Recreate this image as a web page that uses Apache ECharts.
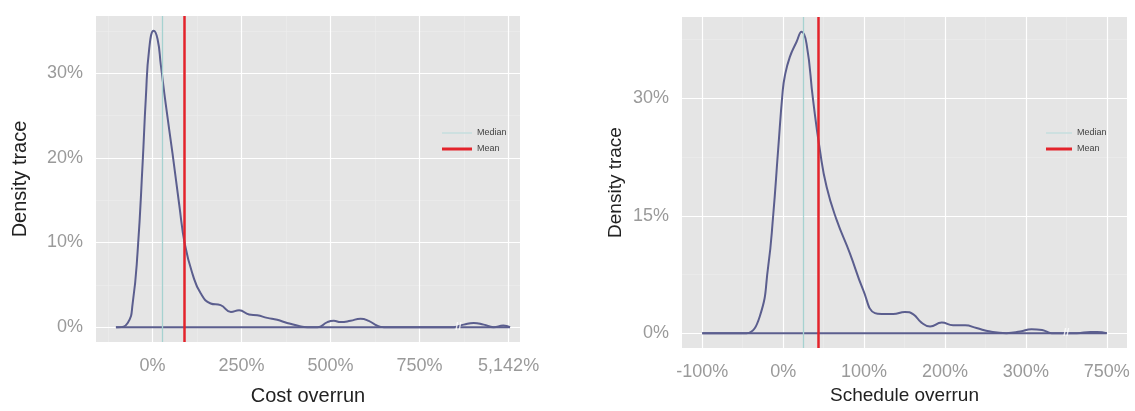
<!DOCTYPE html>
<html lang="en" style="height: 100%">

<head>
    <meta charset="utf-8">
    <script type="text/javascript" src="https://cdn.jsdelivr.net/npm/echarts@6/dist/echarts.min.js"></script>
</head>

<body style="height: 100%; margin: 0; background: #fff">
    <div id="container" style="width: 1135px; height: 411px"></div>
    <script type="text/javascript">
        // cost overrun density (x in %, 1000 on the axis stands for 5,142%)
        var costX = [-103, -98, -70, -56, -42, -28, -19, -9.5, 3, 14, 23, 37, 56, 75, 91, 112, 135, 163, 191, 220, 243, 271, 294, 322, 350, 378, 406, 435, 463, 491, 509, 528, 556, 584, 607, 631, 650, 845, 874, 902, 930, 958, 985, 1004];
        var costY = [0, 0, 0.5, 2.8, 9.0, 19.4, 27.1, 32.9, 35.0, 34.0, 31.0, 26.3, 20.5, 14.4, 9.7, 6.3, 4.0, 2.8, 2.6, 1.8, 2.0, 1.5, 1.4, 1.1, 0.87, 0.5, 0.2, 0, 0, 0.6, 0.75, 0.6, 0.75, 1.0, 0.75, 0.17, 0, 0, 0.3, 0.5, 0.3, 0, 0.2, 0];
        var costMedian = 26;
        var costMean = 90;
        var costBreak = 859;
        var costXTicks = [0, 250, 500, 750, 1000];
        var costXTickLabels = ['0%', '250%', '500%', '750%', '5,142%'];
        var costXMinor = [-125, 125, 375, 625, 875];
        var costYTicks = [0, 10, 20, 30];
        var costYMinor = [5, 15, 25, 35];

        // schedule overrun density (400 on the axis stands for 750%)
        var schedX = [-100, -47, -45, -29, -18.5, -12.4, -6.2, -0.8, 2, 8.3, 16.5, 22.8, 28.9, 37, 45.4, 53.7, 66, 82.5, 99, 113.5, 121.8, 136, 150.6, 161, 171, 181.6, 196, 210, 225, 239, 256, 276, 293, 307, 320, 332, 346, 363, 380, 388, 400];
        var schedY = [0, 0, 0, 2.1, 8.5, 14.9, 23.4, 30.6, 32.8, 35.3, 37.2, 38.5, 37.0, 29.8, 23.4, 18.7, 14.5, 10.2, 5.5, 2.55, 2.45, 2.45, 2.7, 2.4, 1.35, 0.85, 1.35, 1.0, 1.0, 0.65, 0.2, 0, 0.2, 0.5, 0.4, 0, 0, 0, 0.15, 0.15, 0];
        var schedMedian = 25;
        var schedMean = 44;
        var schedBreak = 350;
        var schedXTicks = [-100, 0, 100, 200, 300, 400];
        var schedXTickLabels = ['-100%', '0%', '100%', '200%', '300%', '750%'];
        var schedXMinor = [-50, 50, 150, 250, 350];
        var schedYTicks = [0, 15, 30];
        var schedYMinor = [7.5, 22.5, 37.5];

        var FONT = 'Liberation Sans, Arial, sans-serif';
        var curveColor = '#5b5e8e';
        var medianColor = '#a6d2d0';
        var meanColor = '#e3232b';

        function pairs(xs, ys) {
            return xs.map(function (x, i) { return [x, ys[i]]; });
        }

        function gridLines(idx, xMajor, xMinor, yMajor, yMinor) {
            var lines = [];
            var minor = { color: '#ececec', width: 0.6, type: 'solid' };
            var major = { color: '#ffffff', width: 1.2, type: 'solid' };
            xMinor.forEach(function (v) { lines.push({ xAxis: v, lineStyle: minor }); });
            yMinor.forEach(function (v) { lines.push({ yAxis: v, lineStyle: minor }); });
            xMajor.forEach(function (v) { lines.push({ xAxis: v, lineStyle: major }); });
            yMajor.forEach(function (v) { lines.push({ yAxis: v, lineStyle: major }); });
            return {
                type: 'line', xAxisIndex: idx, yAxisIndex: idx, data: [], silent: true, z: 1,
                markLine: { z: 1, symbol: 'none', silent: true, animation: false, label: { show: false }, data: lines }
            };
        }

        function vline(idx, name, value, color, width) {
            return {
                name: name, type: 'line', xAxisIndex: idx, yAxisIndex: idx, data: [], z: 5,
                symbol: 'none', lineStyle: { color: color, width: width }, itemStyle: { color: color },
                markLine: {
                    z: 5, symbol: 'none', silent: true, animation: false, label: { show: false },
                    lineStyle: { color: color, width: width, type: 'solid' },
                    data: [{ xAxis: value }]
                }
            };
        }

        function density(idx, xs, ys) {
            return {
                type: 'line', xAxisIndex: idx, yAxisIndex: idx, data: pairs(xs, ys), z: 3,
                symbol: 'none', smooth: 0.5,
                lineStyle: { color: curveColor, width: 2 }
            };
        }

        function baseline(idx, xs) {
            return {
                type: 'line', xAxisIndex: idx, yAxisIndex: idx, z: 3, symbol: 'none',
                data: [[xs[0], 0], [xs[xs.length - 1], 0]],
                lineStyle: { color: curveColor, width: 2 }
            };
        }

        function breakMark(idx, x) {
            return {
                type: 'scatter', xAxisIndex: idx, yAxisIndex: idx, z: 6, symbolSize: 0,
                data: [[x, 0]], silent: true,
                label: { show: true, position: 'inside', formatter: '//', color: '#ffffff', fontSize: 11, fontWeight: 'bold', fontFamily: FONT }
            };
        }

        function xAxis(idx, min, max, ticks, labels, nameText, nameGap, fontSize) {
            return {
                type: 'value', gridIndex: idx, min: min, max: max,
                name: nameText, nameLocation: 'middle', nameGap: nameGap,
                nameTextStyle: { color: '#222', fontSize: fontSize, fontFamily: FONT },
                axisLine: { show: false },
                axisTick: { show: true, customValues: ticks, length: 4, lineStyle: { color: '#8a8a8a' } },
                axisLabel: {
                    customValues: ticks, margin: 15, color: '#9a9a9a', fontSize: 18, fontFamily: FONT,
                    formatter: function (v) { return labels[ticks.indexOf(v)]; }
                },
                splitLine: { show: false }
            };
        }

        function yAxis(idx, min, max, ticks, nameGap, fontSize) {
            return {
                type: 'value', gridIndex: idx, min: min, max: max,
                name: 'Density trace', nameLocation: 'middle', nameGap: nameGap,
                nameTextStyle: { color: '#222', fontSize: fontSize, fontFamily: FONT },
                axisLine: { show: false },
                axisTick: { show: true, customValues: ticks, length: 5, lineStyle: { color: '#8a8a8a' } },
                axisLabel: {
                    customValues: ticks, margin: 13, color: '#9a9a9a', fontSize: 18, fontFamily: FONT,
                    formatter: '{value}%'
                },
                splitLine: { show: false }
            };
        }

        function legend(name, left, top, width, height, color) {
            return {
                data: [{ name: name, icon: 'rect', itemStyle: { color: color } }],
                left: left, top: top, itemWidth: width, itemHeight: height,
                selectedMode: false, padding: 0,
                textStyle: { fontSize: 9, color: '#444', fontFamily: FONT }
            };
        }

        var chart = echarts.init(document.getElementById('container'), null, { renderer: 'canvas' });
        var option = {
            animation: false,
            backgroundColor: '#ffffff',
            grid: [
                { left: 96, top: 16, width: 424, height: 331, show: true, backgroundColor: '#e5e5e5', borderWidth: 0 },
                { left: 682, top: 17, width: 445, height: 331, show: true, backgroundColor: '#e5e5e5', borderWidth: 0 }
            ],
            xAxis: [
                xAxis(0, -159, 1032, costXTicks, costXTickLabels, 'Cost overrun', 44, 20),
                xAxis(1, -125, 425, schedXTicks, schedXTickLabels, 'Schedule overrun', 37, 19)
            ],
            yAxis: [
                yAxis(0, -1.75, 36.75, costYTicks, 66, 20),
                yAxis(1, -1.9, 40.4, schedYTicks, 57, 19)
            ],
            legend: [
                legend('Median', 442, 128.5, 30, 1.5, '#c4dede'),
                legend('Mean', 442, 144.5, 30, 3, meanColor),
                legend('Median', 1046, 128.5, 26, 1.5, '#c4dede'),
                legend('Mean', 1046, 144.5, 26, 3, meanColor)
            ],
            series: [
                gridLines(0, costXTicks, costXMinor, costYTicks, costYMinor),
                baseline(0, costX),
                density(0, costX, costY),
                breakMark(0, costBreak),
                vline(0, 'Median', costMedian, medianColor, 1.3),
                vline(0, 'Mean', costMean, meanColor, 2.5),

                gridLines(1, schedXTicks, schedXMinor, schedYTicks, schedYMinor),
                baseline(1, schedX),
                density(1, schedX, schedY),
                breakMark(1, schedBreak),
                vline(1, 'Median', schedMedian, medianColor, 1.3),
                vline(1, 'Mean', schedMean, meanColor, 2.5)
            ]
        };
        chart.setOption(option);
    </script>
</body>

</html>
